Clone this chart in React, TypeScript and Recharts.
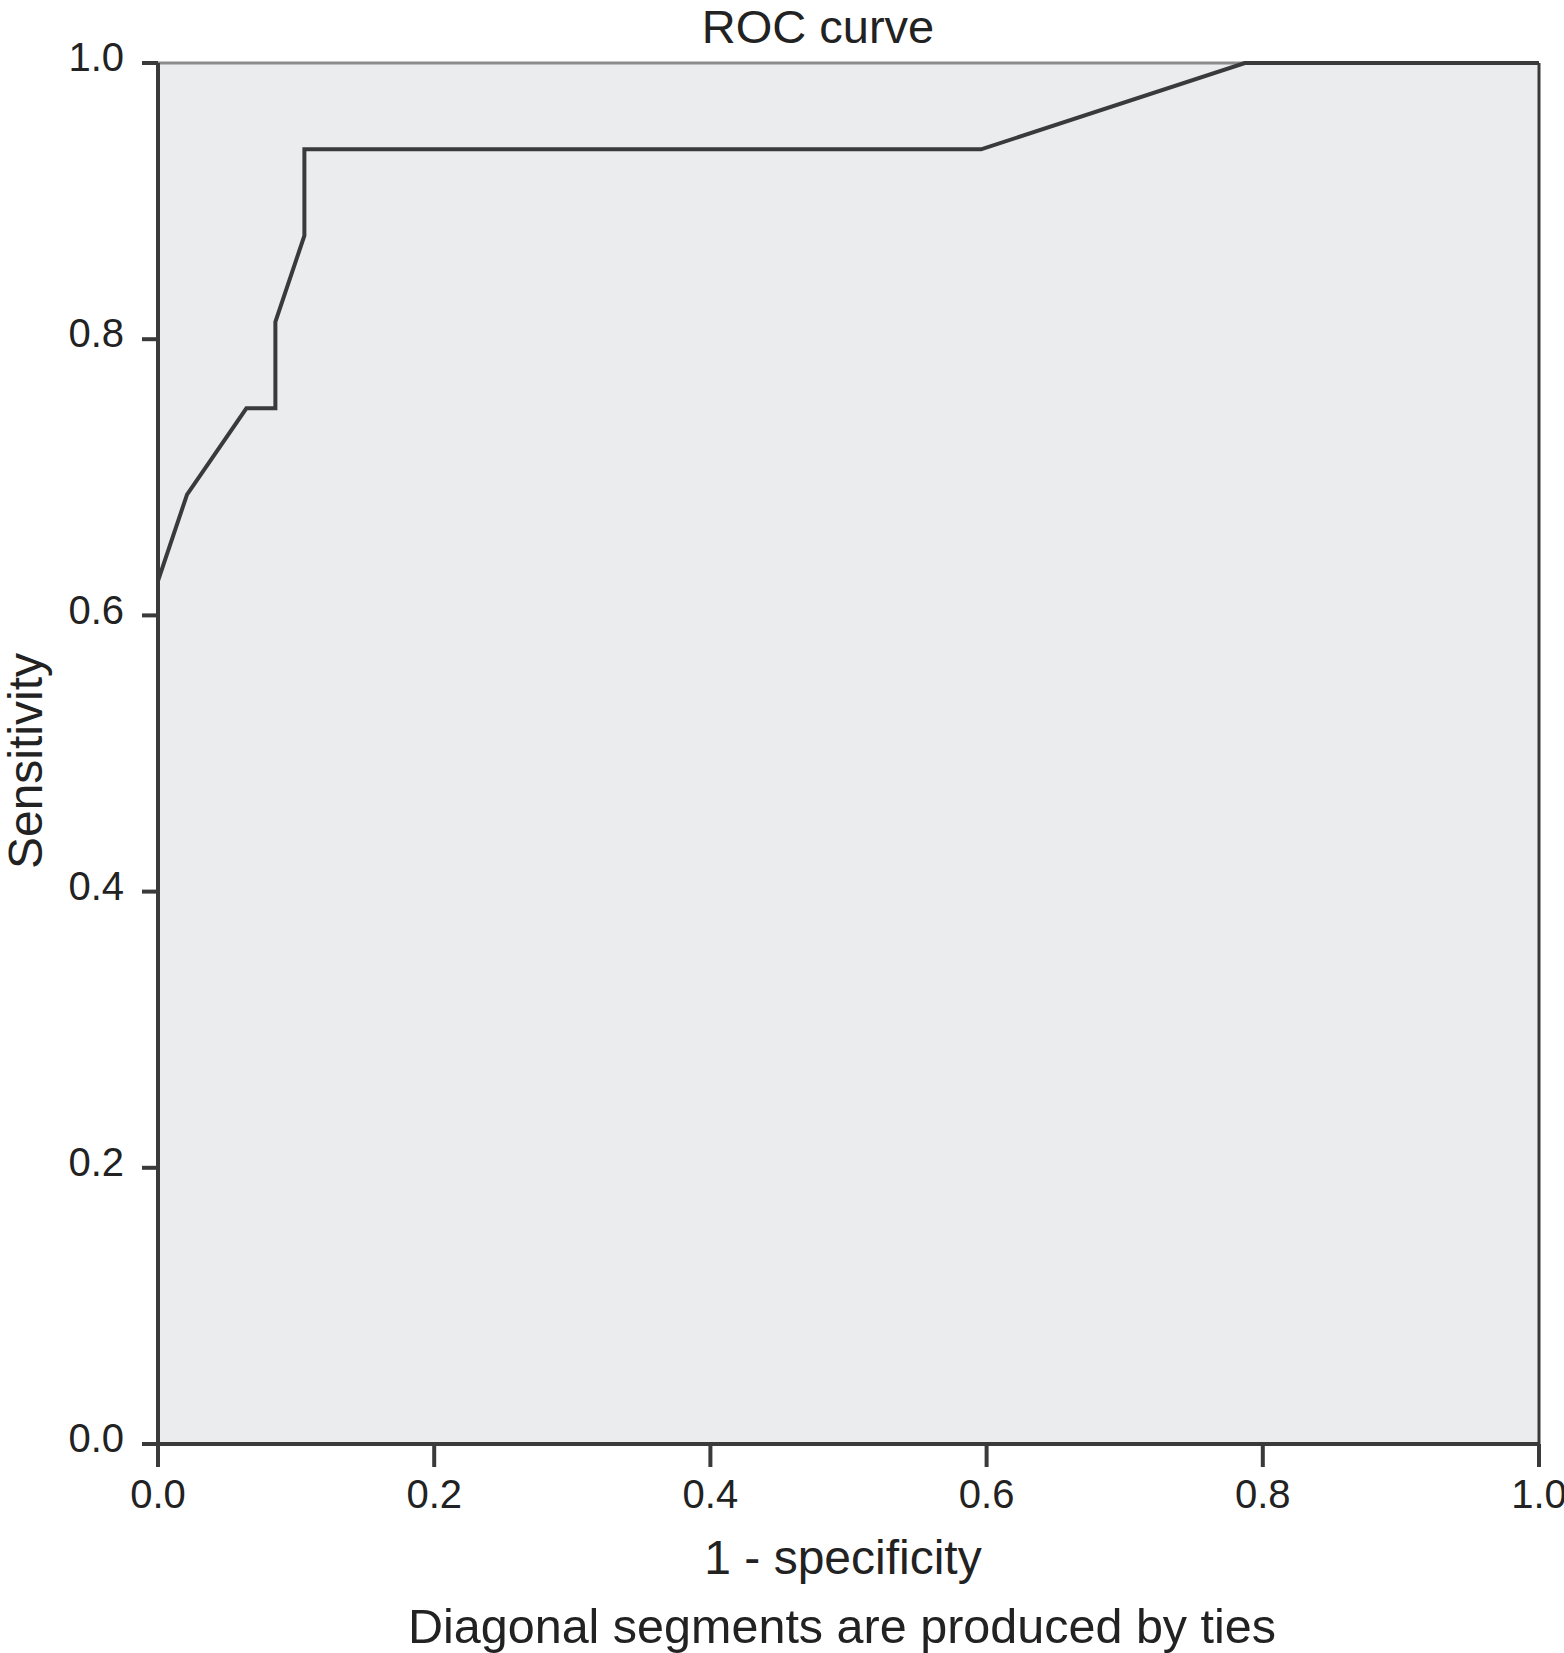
import { LineChart, Line, XAxis, YAxis, CartesianGrid, ReferenceLine } from 'recharts';

// ROC points (1 - specificity, sensitivity)
const falsePosRate = [0, 0, 0.021, 0.064, 0.085, 0.085, 0.106, 0.106, 0.596, 0.787, 1];
const sensitivity = [0, 0.625, 0.6875, 0.75, 0.75, 0.8125, 0.875, 0.9375, 0.9375, 1, 1];
const axisTicks = [0, 0.2, 0.4, 0.6, 0.8, 1];

const rocData = falsePosRate.map((x, i) => ({ fpr: x, sens: sensitivity[i] }));

const FONT = '"Liberation Sans", Arial, Helvetica, sans-serif';
const INK = '#3a3a3a';

export default function App() {
    return (
        <div style={{ position: 'absolute', left: 0, top: 0, width: 1564, height: 1653, background: '#fff', fontFamily: FONT }}>
            <LineChart
                width={1564}
                height={1653}
                data={rocData}
                margin={{ top: 63, right: 25, bottom: 139, left: 38 }}
            >
                <CartesianGrid horizontal={false} vertical={false} fill="#ebecee" />
                <XAxis
                    dataKey="fpr"
                    type="number"
                    domain={[0, 1]}
                    ticks={axisTicks}
                    tickFormatter={(v) => v.toFixed(1)}
                    height={70}
                    stroke={INK}
                    strokeWidth={4}
                    tickSize={23}
                    tickMargin={13}
                    tick={{ fill: '#222', fontSize: 40, fontFamily: FONT }}
                />
                <YAxis
                    dataKey="sens"
                    type="number"
                    domain={[0, 1]}
                    ticks={axisTicks}
                    tickFormatter={(v) => v.toFixed(1)}
                    width={120}
                    stroke={INK}
                    strokeWidth={4}
                    tickSize={16}
                    tickMargin={18}
                    tick={{ fill: '#222', fontSize: 40, fontFamily: FONT, dy: -6 }}
                />
                <ReferenceLine y={1} stroke="#8c8c8c" strokeWidth={3} />
                <ReferenceLine x={1} stroke={INK} strokeWidth={3} />
                <Line
                    type="linear"
                    dataKey="sens"
                    stroke={INK}
                    strokeWidth={4}
                    dot={false}
                    activeDot={false}
                    isAnimationActive={false}
                />
            </LineChart>
            <svg width={1564} height={1653} style={{ position: 'absolute', left: 0, top: 0, pointerEvents: 'none' }}>
                <text x={818} y={26} textAnchor="middle" dominantBaseline="central" fontSize={47} fill="#222" fontFamily={FONT}>
                    ROC curve
                </text>
                <text x={843} y={1557} textAnchor="middle" dominantBaseline="central" fontSize={48} fill="#222" fontFamily={FONT}>
                    1 - specificity
                </text>
                <text x={842} y={1626} textAnchor="middle" dominantBaseline="central" fontSize={48.5} fill="#222" fontFamily={FONT}>
                    Diagonal segments are produced by ties
                </text>
                <text x={25} y={761} textAnchor="middle" dominantBaseline="central" fontSize={48} fill="#222" fontFamily={FONT} transform="rotate(-90 25 761)">
                    Sensitivity
                </text>
            </svg>
        </div>
    );
}
